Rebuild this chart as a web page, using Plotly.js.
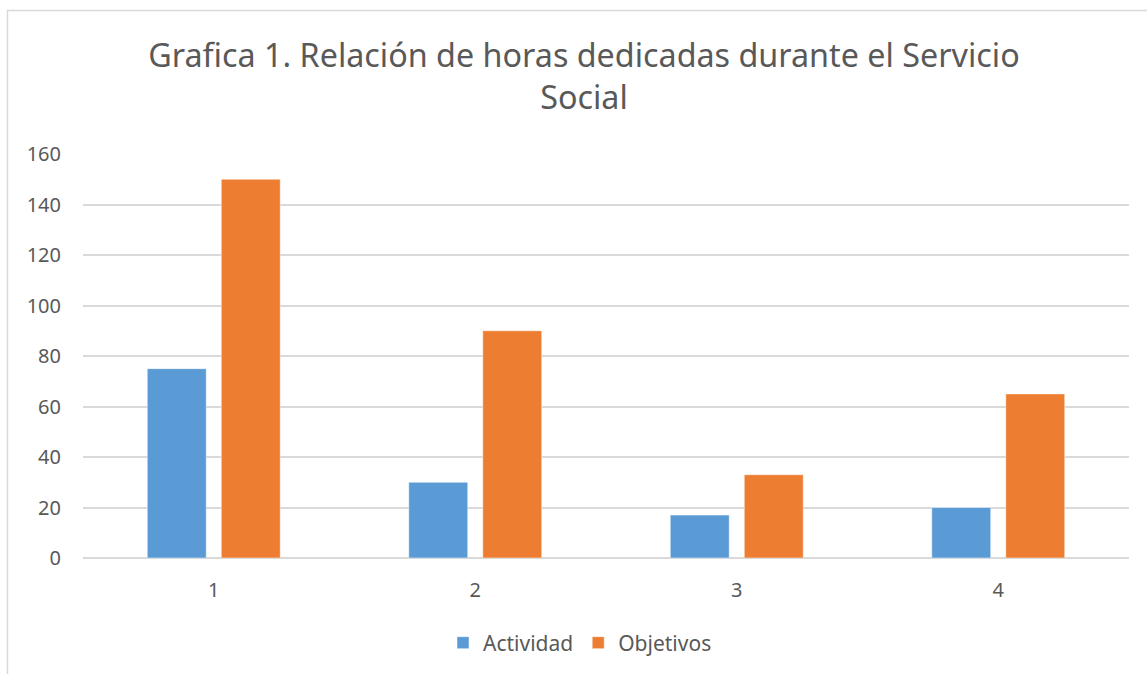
<!DOCTYPE html>
<html>
<head>
<meta charset="utf-8">
<script src="https://cdn.plot.ly/plotly-3.0.1.min.js"></script>
<style>
  html, body { margin: 0; padding: 0; background: #ffffff; }
  #chart { width: 1147px; height: 674px; }
</style>
</head>
<body>
<div id="chart"></div>
<script>
const categories = ["1", "2", "3", "4"];
const actividad = [75, 30, 17, 20];
const objetivos = [150, 90, 33, 65];
const yTicks = [0, 20, 40, 60, 80, 100, 120, 140, 160];
const seriesNames = ["Actividad", "Objetivos"];
const titleText = "Grafica 1. Relación de horas dedicadas durante el Servicio<br>Social";

const textColor = "#595959";
const fontFamily = "'Noto Sans', 'Open Sans', sans-serif";

const traces = [
  {
    type: "bar", name: seriesNames[0], x: categories, y: actividad,
    marker: { color: "#5B9BD5", line: { color: "#ffffff", width: 0.5 } },
    hoverinfo: "x+y+name"
  },
  {
    type: "bar", name: seriesNames[1], x: categories, y: objetivos,
    marker: { color: "#ED7D31", line: { color: "#ffffff", width: 0.5 } },
    hoverinfo: "x+y+name"
  }
];

const layout = {
  width: 1147, height: 674,
  paper_bgcolor: "#ffffff", plot_bgcolor: "#ffffff",
  margin: { l: 83, r: 18, t: 154, b: 116 },
  font: { family: fontFamily, color: textColor, size: 20 },
  title: {
    text: titleText,
    font: { family: fontFamily, size: 32.3, color: textColor },
    xref: "container", x: 584 / 1147, xanchor: "center",
    yref: "container", y: 1 - 67 / 674, yanchor: "top"
  },
  barmode: "group",
  bargap: 0.434,
  bargroupgap: 0.203,
  xaxis: {
    type: "category",
    showgrid: false, zeroline: false, showline: false,
    ticks: "", tickfont: { size: 20, color: textColor },
    ticklabelstandoff: 18
  },
  yaxis: {
    range: [0, 160],
    tickvals: yTicks,
    ticktext: yTicks.map(String),
    showgrid: true, gridcolor: "#d9d9d9", gridwidth: 1.5,
    zeroline: true, zerolinecolor: "#d9d9d9", zerolinewidth: 1.5,
    showline: false, ticks: "",
    tickfont: { size: 20, color: textColor },
    ticklabelstandoff: 21
  },
  showlegend: true,
  legend: {
    orientation: "h",
    xref: "container", x: 580 / 1147, xanchor: "center",
    yref: "container", y: 1 - 643 / 674, yanchor: "middle",
    font: { size: 21, color: textColor },
    itemwidth: 30, traceorder: "normal"
  },
  shapes: [
    {
      type: "rect", xref: "paper", yref: "paper", layer: "below",
      x0: (7.5 - 83) / 1046, x1: 1.2,
      y0: -0.6, y1: (558 - 10.5) / 404,
      line: { color: "#d9d9d9", width: 1.5 }, fillcolor: "rgba(0,0,0,0)"
    }
  ]
};

Plotly.newPlot("chart", traces, layout, { displayModeBar: false, responsive: false });
</script>
</body>
</html>
